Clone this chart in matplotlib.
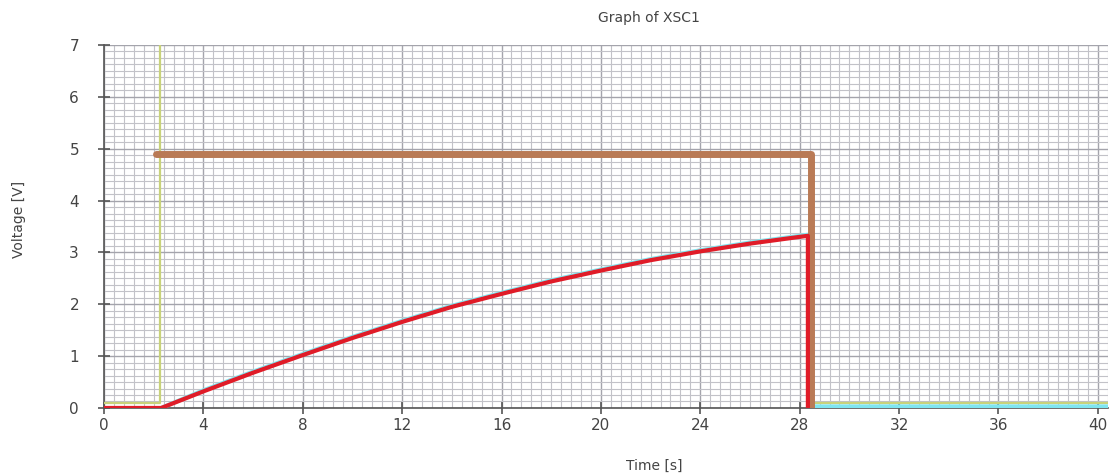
import numpy as np
from matplotlib import pyplot as plt
from matplotlib.ticker import MultipleLocator

t_red = [0, 2.3, 4, 6, 8, 10, 12, 14, 16, 18, 20, 22, 24, 26, 28, 28.33, 28.33]
v_red = [0, 0, 0.32, 0.68, 1.02, 1.35, 1.66, 1.95, 2.2, 2.44, 2.65, 2.85, 3.02, 3.17, 3.3, 3.32, 0]

t_cyan = [2.3, 4, 6, 8, 10, 12, 14, 16, 18, 20, 22, 24, 26, 28, 28.33, 28.47, 28.47, 40.4]
v_cyan = [0, 0.34, 0.7, 1.04, 1.37, 1.68, 1.97, 2.22, 2.46, 2.67, 2.87, 3.04, 3.19, 3.32, 3.34, 3.34, 0.03, 0.03]

t_brown = [2.1, 28.47, 28.47]
v_brown = [4.9, 4.9, 0]

t_yel = [0, 2.25, 2.25]
v_yel = [0.1, 0.1, 7.5]
t_yel2 = [28.47, 40.4]
v_yel2 = [0.1, 0.1]

xticks = [0, 4, 8, 12, 16, 20, 24, 28, 32, 36, 40]
yticks = [0, 1, 2, 3, 4, 5, 6, 7]

plt.rcParams['font.family'] = ['DejaVu Sans']

fig = plt.figure(figsize=(11.1, 4.76), dpi=100)
ax = fig.add_axes([0.0937, 0.1429, 0.9043, 0.7626])

ax.set_xlim(0, 40.4)
ax.set_ylim(0, 7)
ax.xaxis.set_minor_locator(MultipleLocator(0.4))
ax.yaxis.set_minor_locator(MultipleLocator(0.125))
ax.set_xticks(xticks)
ax.set_yticks(yticks)
ax.grid(which='minor', color='#c2c2c8', linewidth=0.8)
ax.grid(which='major', color='#a4a4ac', linewidth=1.0)
ax.set_axisbelow(True)

ax.plot(t_yel, v_yel, color='#c8d27a', lw=1.6, zorder=3)
ax.plot(t_yel2, v_yel2, color='#c8d27a', lw=1.6, zorder=3)
ax.plot(t_cyan, v_cyan, color='#7fe6f0', lw=3, zorder=4)
ax.plot(t_brown, v_brown, color='#b97a55', lw=5, solid_capstyle='round',
        solid_joinstyle='round', zorder=5)
ax.plot(t_red, v_red, color='#e01c28', lw=3, solid_capstyle='butt', zorder=6)

for s in ['top', 'right']:
    ax.spines[s].set_visible(False)
for s in ['left', 'bottom']:
    ax.spines[s].set_color('#555555')
    ax.spines[s].set_linewidth(1.2)
ax.tick_params(which='major', direction='inout', length=8, width=1.2,
               color='#555555', labelsize=11, labelcolor='#444444')
ax.tick_params(axis='y', pad=14)
ax.tick_params(axis='x', pad=3)
ax.tick_params(which='minor', length=0)

fig.text(0.585, 0.963, 'Graph of XSC1', ha='center', va='center', fontsize=10, color='#444444')
fig.text(0.589, 0.022, 'Time [s]', ha='center', va='center', fontsize=10, color='#444444')
fig.text(0.017, 0.54, 'Voltage [V]', ha='center', va='center', rotation=90, fontsize=10, color='#444444')

plt.savefig('out.png', dpi=100)
